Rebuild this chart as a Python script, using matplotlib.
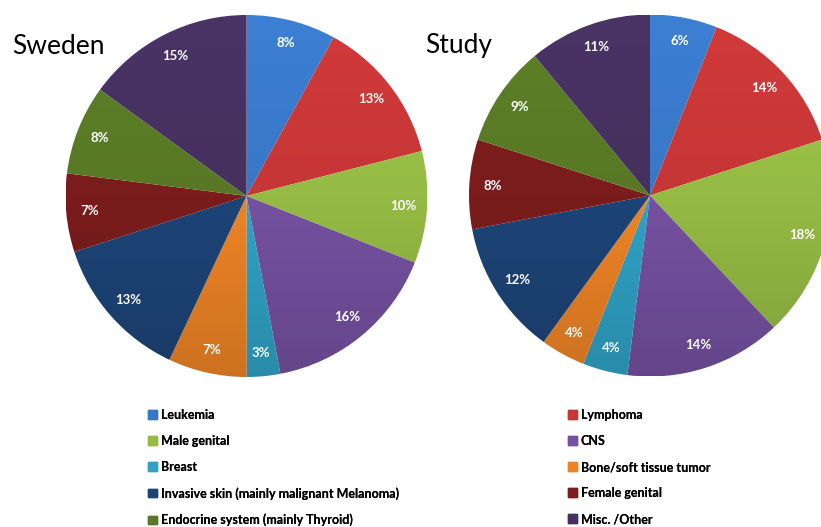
import matplotlib
matplotlib.use("Agg")
import matplotlib.pyplot as plt
import numpy as np
from matplotlib.colors import LinearSegmentedColormap, to_rgb

categories = [
    "Leukemia", "Lymphoma", "Male genital", "CNS", "Breast",
    "Bone/soft tissue tumor", "Invasive skin (mainly malignant Melanoma)",
    "Female genital", "Endocrine system (mainly Thyroid)", "Misc. /Other",
]
sweden = [8, 13, 10, 16, 3, 7, 13, 7, 8, 15]
study = [6, 14, 18, 14, 4, 4, 12, 8, 9, 11]

colors = [
    "#3877c6", "#c53636", "#95bb44", "#7551a0", "#30a2c6",
    "#ee8426", "#1d4477", "#7a1c1c", "#587825", "#45305f",
]

plt.rcParams["font.family"] = ["Lato", "DejaVu Sans"]

W, H = 821, 527
fig = plt.figure(figsize=(W / 100, H / 100), dpi=100)
fig.patch.set_facecolor("white")


def shade(c, f):
    r = np.clip(np.array(to_rgb(c)) * f, 0, 1)
    return tuple(r)


def pie_axes(cx, cy, r):
    # cx, cy, r in pixels, y measured from the top
    return fig.add_axes([(cx - r) / W, (H - cy - r) / H, 2 * r / W, 2 * r / H])


def draw_pie(ax, values):
    wedges, _, autotexts = ax.pie(
        values, colors=colors, startangle=90, counterclock=False,
        autopct="%d%%", pctdistance=0.87, radius=1.0,
        wedgeprops=dict(linewidth=0),
        textprops=dict(color="white", fontsize=9.5, fontweight="bold"),
    )
    # vertical light-to-dark shading inside each wedge
    grad = np.linspace(0, 1, 256).reshape(-1, 1)
    for w, c in zip(wedges, colors):
        cmap = LinearSegmentedColormap.from_list(
            "g", [shade(c, 0.86), c, shade(c, 1.07)])
        im = ax.imshow(grad, extent=(-1, 1, -1, 1), origin="lower",
                       cmap=cmap, aspect="auto", zorder=0.5)
        im.set_clip_path(w)
        w.set_facecolor("none")
    for t, v in zip(autotexts, values):
        t.set_text(f"{v}%")
        t.set_zorder(3)
    ax.set_xlim(-1, 1)
    ax.set_ylim(-1, 1)
    ax.set_aspect("equal")
    ax.axis("off")


ax1 = pie_axes(246.5, 196, 181)
draw_pie(ax1, sweden)
ax2 = pie_axes(650, 195.5, 181)
draw_pie(ax2, study)

fig.text(12 / W, 1 - 47 / H, "Sweden", fontsize=19, va="center", ha="left")
fig.text(425 / W, 1 - 45 / H, "Study", fontsize=19, va="center", ha="left")

# two legend columns below the pies
handles = [plt.Rectangle((0, 0), 1, 1, color=c) for c in colors]
for idx, x0 in ((range(0, 10, 2), 148), (range(1, 10, 2), 568)):
    leg = fig.legend(
        [handles[i] for i in idx], [categories[i] for i in idx],
        loc="upper left", bbox_to_anchor=(x0 / W, 1 - 409 / H),
        frameon=False, prop=dict(weight="bold", size=9.0),
        handlelength=0.68, handleheight=0.68, handletextpad=0.35,
        labelspacing=1.12, borderpad=0, borderaxespad=0,
    )
    fig.add_artist(leg)

fig.savefig("out.png", dpi=100, facecolor="white")
